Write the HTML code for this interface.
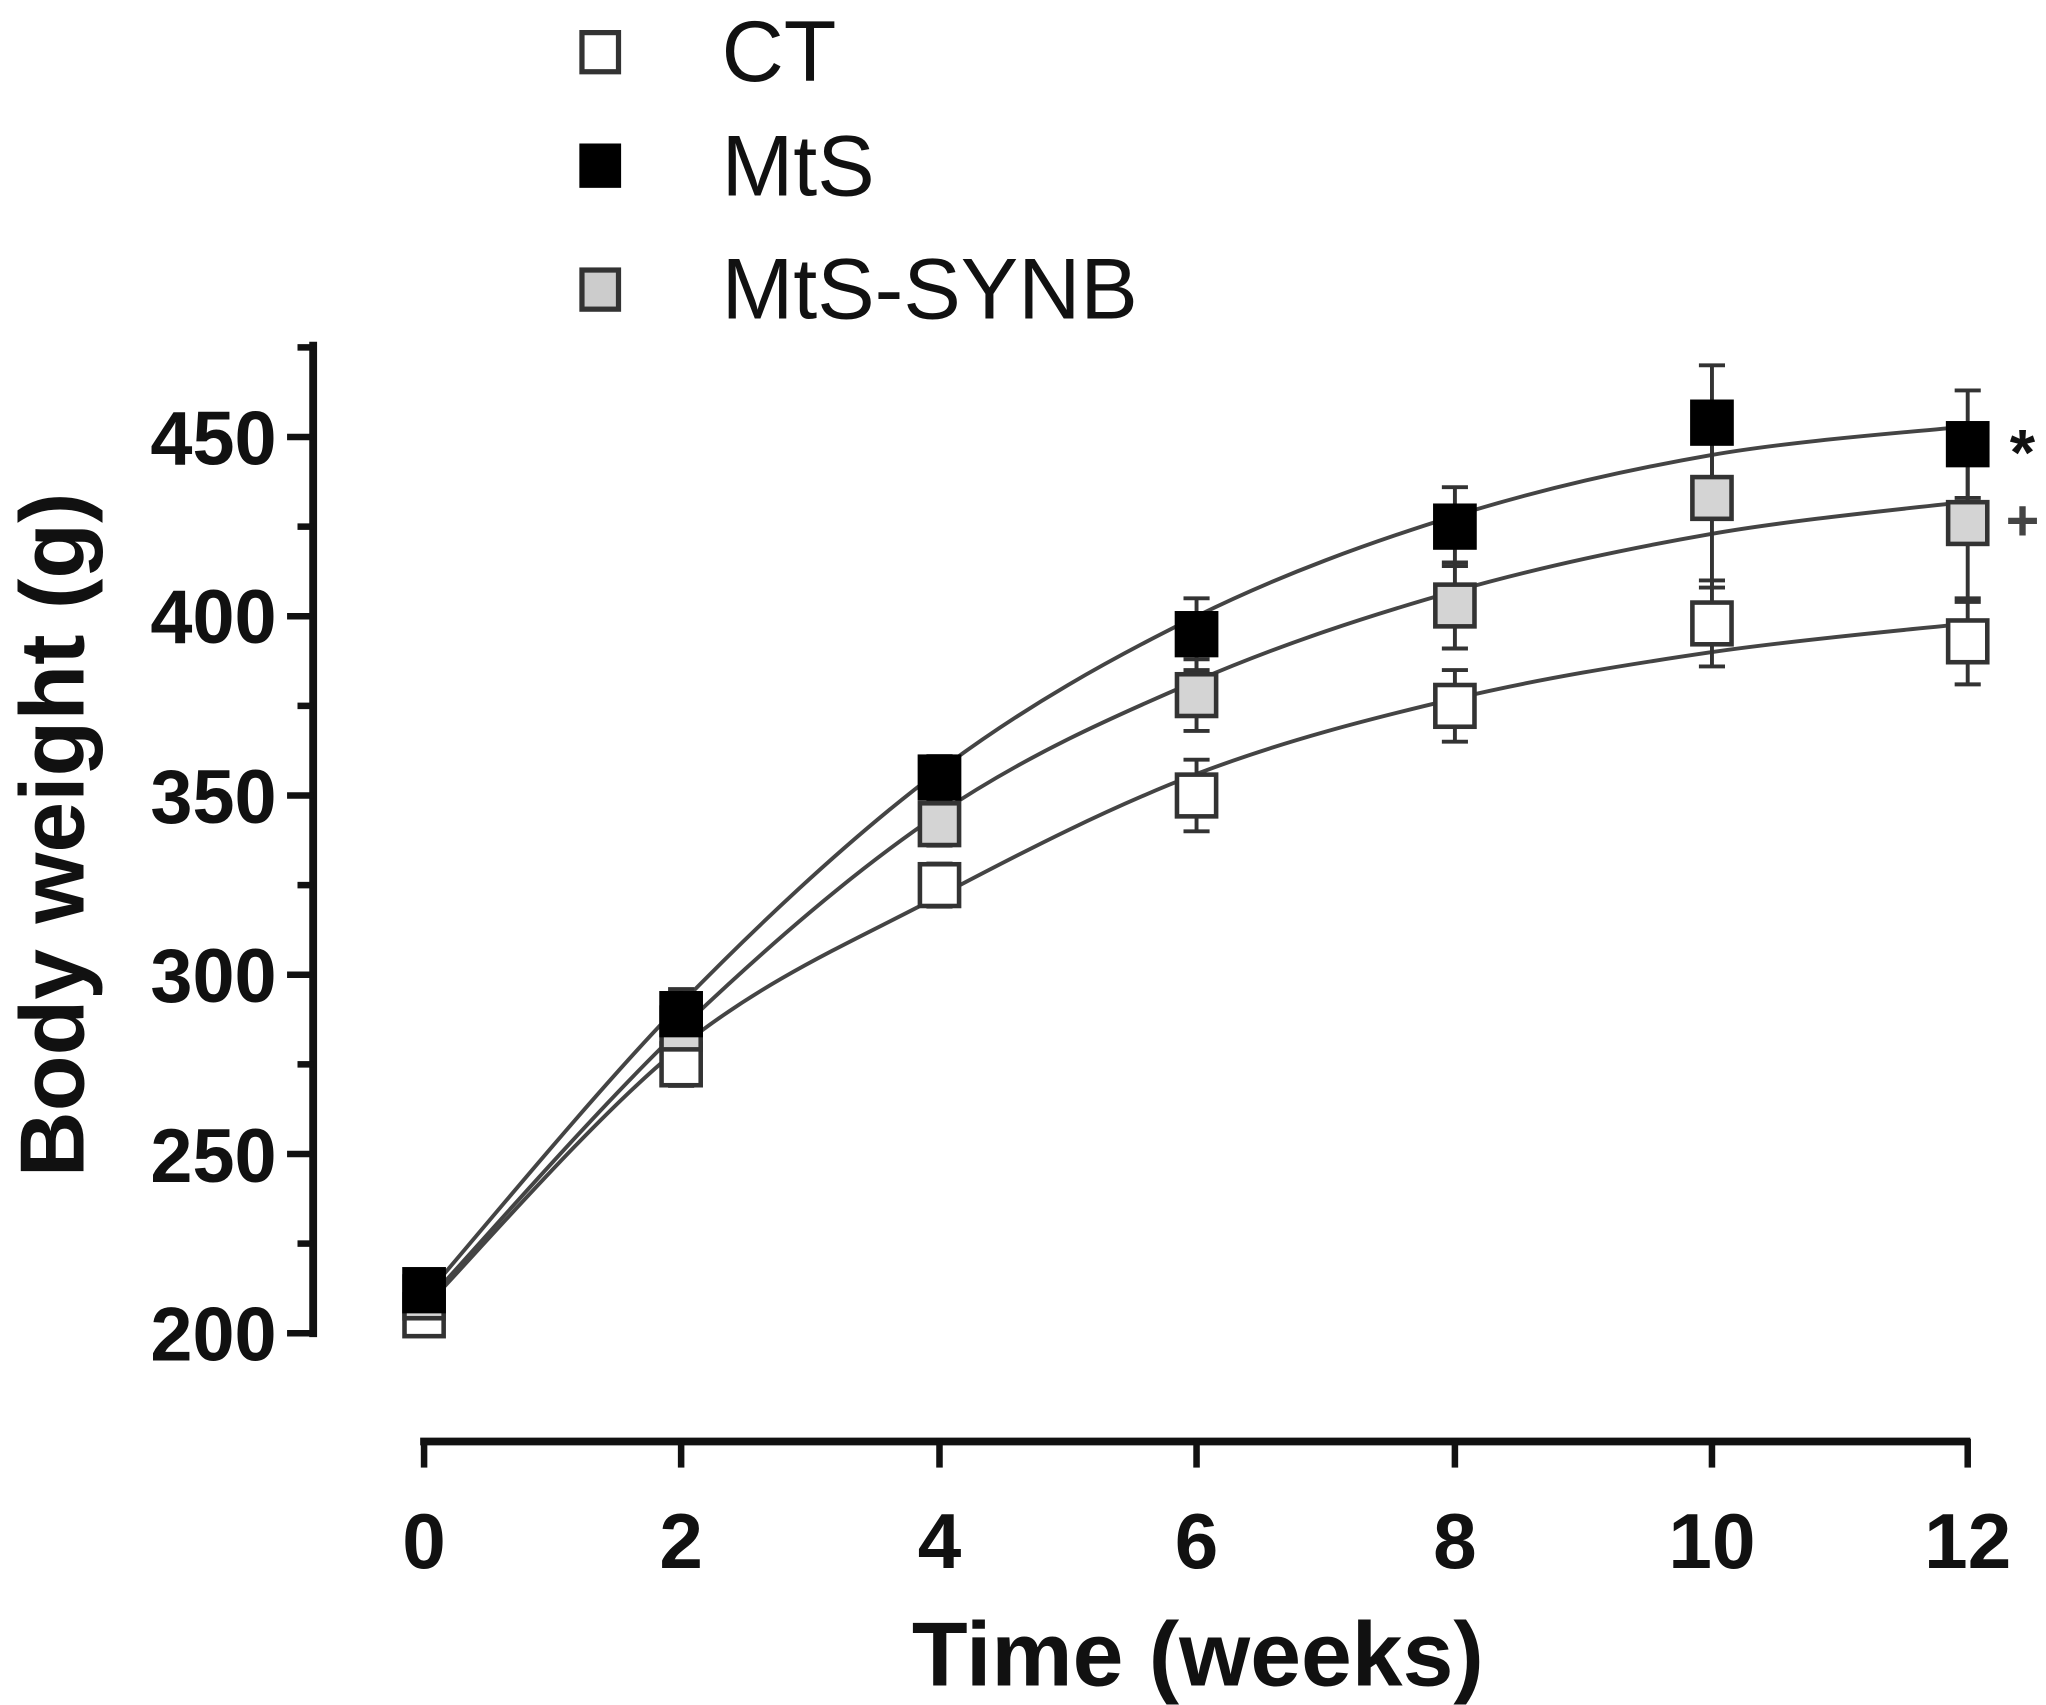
<!DOCTYPE html>
<html><head><meta charset="utf-8"><style>
html,body{margin:0;padding:0;background:#fff}
svg{display:block}
text{font-family:"Liberation Sans",Arial,sans-serif}
</style></head><body>
<svg id="s" width="2046" height="1705" viewBox="0 0 1568 1307" preserveAspectRatio="none" xmlns="http://www.w3.org/2000/svg">
<g stroke="#111" stroke-width="6" fill="none">
<line x1="240" y1="262" x2="240" y2="1025"/>
<line x1="322" y1="1105" x2="1510" y2="1105"/>
</g>
<g id="ticks" stroke="#111" stroke-width="5"></g>
<g font-weight="bold" font-size="58" fill="#111" text-anchor="end">
<text x="212" y="1043">200</text><text x="212" y="906">250</text><text x="212" y="768">300</text>
<text x="212" y="631">350</text><text x="212" y="493">400</text><text x="212" y="356">450</text>
</g>
<g font-weight="bold" font-size="60" fill="#111" text-anchor="middle">
<text x="325" y="1202">0</text><text x="522" y="1202">2</text><text x="720" y="1202">4</text>
<text x="917" y="1202">6</text><text x="1115" y="1202">8</text><text x="1312" y="1202">10</text><text x="1508" y="1202">12</text>
</g>
<text x="918" y="1292" font-weight="bold" font-size="70" text-anchor="middle" fill="#111">Time (weeks)</text>
<text transform="translate(64,640) rotate(-90)" font-weight="bold" font-size="70" text-anchor="middle" fill="#111">Body weight (g)</text>
<g id="plot"></g>
<g stroke="#333" stroke-width="4">
<rect x="446" y="25" width="28" height="30" fill="#fff"/>
<rect x="446" y="112" width="28" height="30" fill="#000" stroke="#000"/>
<rect x="446" y="207" width="28" height="30" fill="#ccc"/>
</g>
<g font-size="66" fill="#111">
<text x="553" y="62">CT</text><text x="553" y="150">MtS</text><text x="553" y="244">MtS-SYNB</text>
</g>
<text x="1550" y="364" font-size="50" font-weight="bold" fill="#111" text-anchor="middle">*</text>
<text x="1550" y="414" font-size="44" font-weight="bold" fill="#444" text-anchor="middle">+</text>
</svg>
<script>
var NS="http://www.w3.org/2000/svg";
function el(p,n,a){var e=document.createElementNS(NS,n);for(var k in a)e.setAttribute(k,a[k]);p.appendChild(e);return e;}
var t=document.getElementById('ticks');
for(var i=0;i<=11;i++){var y=1022-i*68.7;if(y<262)break;el(t,'line',{x1:i%2==0?220:228,y1:y,x2:240,y2:y});}
var xs=[325,522,720,917,1115,1312,1508];
xs.forEach(function(x){el(t,'line',{x1:x,y1:1103,x2:x,y2:1125});});
function Y(v){return 1022-(v-200)*2.748;}
function smooth(pts){var d='M'+pts[0][0]+','+pts[0][1];for(var i=0;i<pts.length-1;i++){var p0=pts[i-1]||pts[i],p1=pts[i],p2=pts[i+1],p3=pts[i+2]||p2;
d+=' C'+(p1[0]+(p2[0]-p0[0])/6)+','+(p1[1]+(p2[1]-p0[1])/6)+' '+(p2[0]-(p3[0]-p1[0])/6)+','+(p2[1]-(p3[1]-p1[1])/6)+' '+p2[0]+','+p2[1];}return d;}
var g=document.getElementById('plot');
var S=[
 {c:[207,280,322,356,377,390,398],p:[205,275,325,350,375,398,393],e:[4,6,6,10,10,12,12],f:'#fff'},
 {c:[208,285,345,382,407,423,432],p:[210,285,342,378,403,433,426],e:[4,6,6,10,12,25,22],f:'#d4d4d4'},
 {c:[210,292,357,400,428,445,453],p:[212,289,355,395,425,454,448],e:[4,7,6,10,11,16,15],f:'#000'}];
S.forEach(function(s){el(g,'path',{d:smooth(s.c.map(function(v,i){return[xs[i],Y(v)];})),stroke:'#444','stroke-width':3,fill:'none'});});
S.forEach(function(s){s.p.forEach(function(v,i){var x=xs[i],y=Y(v),e=s.e[i]*2.748;
 el(g,'line',{x1:x,y1:y-e,x2:x,y2:y+e,stroke:'#333','stroke-width':3});
 el(g,'line',{x1:x-10,y1:y-e,x2:x+10,y2:y-e,stroke:'#333','stroke-width':3});
 el(g,'line',{x1:x-10,y1:y+e,x2:x+10,y2:y+e,stroke:'#333','stroke-width':3});});});
S.forEach(function(s){s.p.forEach(function(v,i){var x=xs[i],y=Y(v);
 el(g,'rect',{x:x-15,y:y-16,width:30,height:32,fill:s.f,stroke:s.f=='#000'?'#000':'#333','stroke-width':3.5});});});
</script>
</body></html>
